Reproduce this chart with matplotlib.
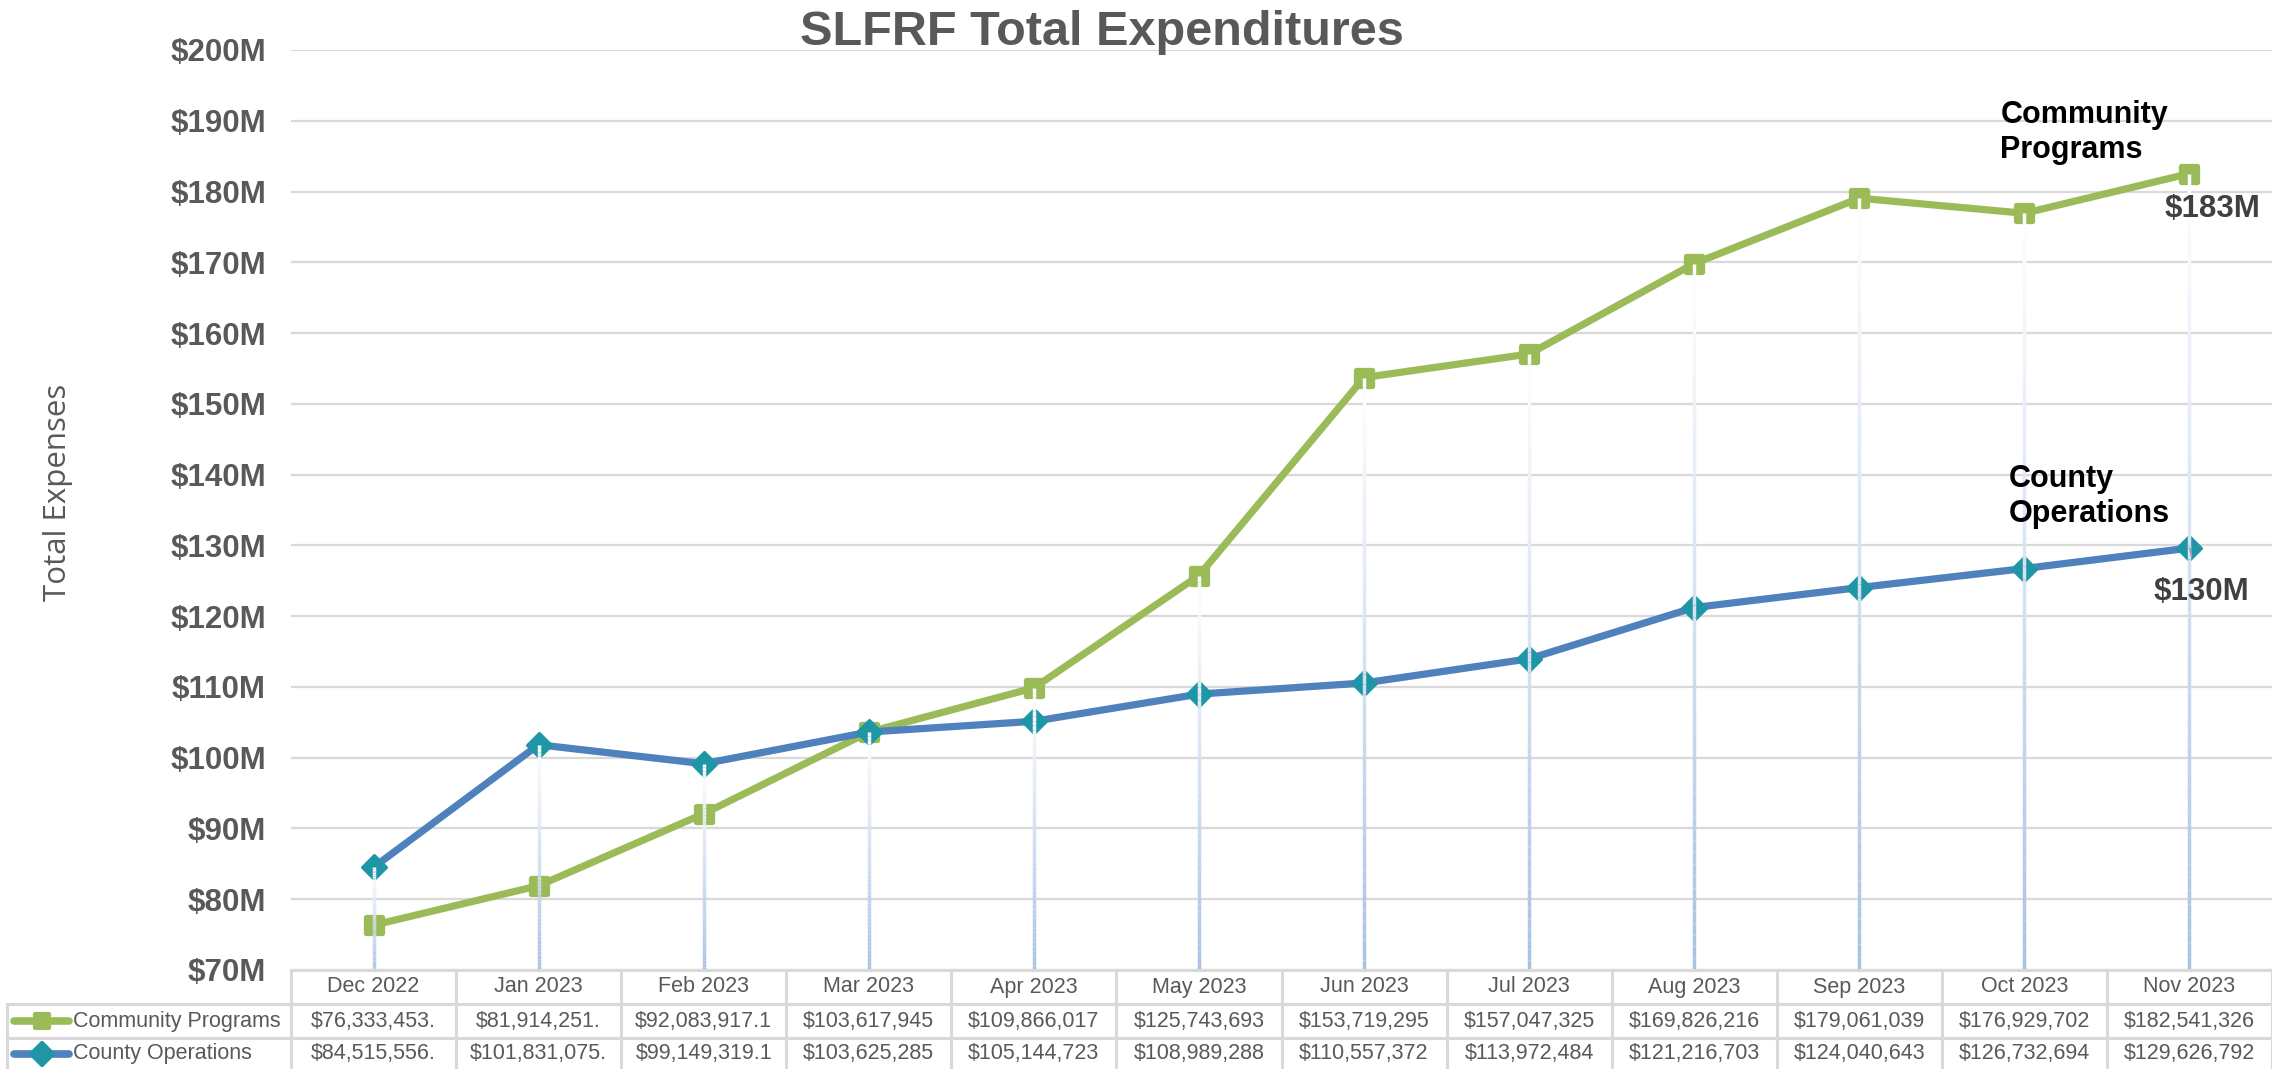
import matplotlib
matplotlib.use("Agg")
import matplotlib.pyplot as plt
import numpy as np
from matplotlib.lines import Line2D
from matplotlib.collections import LineCollection
from matplotlib.markers import MarkerStyle
from matplotlib.transforms import blended_transform_factory

# ---------------- data ----------------
months = ["Dec 2022", "Jan 2023", "Feb 2023", "Mar 2023", "Apr 2023", "May 2023",
          "Jun 2023", "Jul 2023", "Aug 2023", "Sep 2023", "Oct 2023", "Nov 2023"]
community = [76.333453, 81.914251, 92.0839171, 103.617945, 109.866017, 125.743693,
             153.719295, 157.047325, 169.826216, 179.061039, 176.929702, 182.541326]
county = [84.515556, 101.831075, 99.1493191, 103.625285, 105.144723, 108.989288,
          110.557372, 113.972484, 121.216703, 124.040643, 126.732694, 129.626792]
community_labels = ["$76,333,453.", "$81,914,251.", "$92,083,917.1", "$103,617,945",
                    "$109,866,017", "$125,743,693", "$153,719,295", "$157,047,325",
                    "$169,826,216", "$179,061,039", "$176,929,702", "$182,541,326"]
county_labels = ["$84,515,556.", "$101,831,075.", "$99,149,319.1", "$103,625,285",
                 "$105,144,723", "$108,989,288", "$110,557,372", "$113,972,484",
                 "$121,216,703", "$124,040,643", "$126,732,694", "$129,626,792"]
yticks = list(range(70, 201, 10))
series_names = ["Community Programs", "County Operations"]

# ---------------- style ----------------
W, H = 2272, 1069
GREEN = "#9BBB59"
BLUE = "#4F81BD"
TEAL = "#1E96A6"
GRAY = "#595959"
GRID = "#D9D9D9"
FONT = ["Liberation Sans", "DejaVu Sans"]
plt.rcParams["font.family"] = FONT

fig = plt.figure(figsize=(W / 100, H / 100), dpi=100)
ax = fig.add_axes([291 / W, (H - 970) / H, (2272 - 291) / W, 920 / H])

def fx(p):
    return p / W

def fy(p):
    return (H - p) / H

x = np.arange(len(months))
ax.set_xlim(-0.5, len(months) - 0.5)
ax.set_ylim(70, 200)
ax.set_yticks(yticks)
ax.set_yticklabels([f"${v}M" for v in yticks], fontsize=22.5, fontweight="bold", color=GRAY)
ax.tick_params(axis="y", length=0, pad=18)
ax.set_xticks([])
for s in ax.spines.values():
    s.set_visible(False)
ax.grid(axis="y", color=GRID, linewidth=1.6, zorder=0)
ax.set_axisbelow(True)

sq = MarkerStyle("s", joinstyle="round")
dm = MarkerStyle("D", joinstyle="round")

ax.plot(x, community, color=GREEN, linewidth=5.2, marker=sq, markersize=11.5,
        markerfacecolor=GREEN, markeredgecolor=GREEN, markeredgewidth=3.8,
        solid_joinstyle="round", zorder=3)
ax.plot(x, county, color=BLUE, linewidth=5.2, marker=dm, markersize=12,
        markerfacecolor=TEAL, markeredgecolor=TEAL, markeredgewidth=2.2,
        solid_joinstyle="round", zorder=3)

# drop lines with white -> light-blue gradient
top_c = np.array([1.0, 1.0, 1.0])
bot_c = np.array([0.66, 0.76, 0.89])
segs, cols = [], []
n = 60
for i in range(len(months)):
    ytop = max(community[i], county[i])
    ys = np.linspace(ytop, 70, n + 1)
    for k in range(n):
        segs.append([(x[i], ys[k]), (x[i], ys[k + 1])])
        t = (k + 0.5) / n
        cols.append(tuple(top_c * (1 - t) + bot_c * t))
lc = LineCollection(segs, colors=cols, linewidths=2.5, zorder=4, capstyle="butt")
ax.add_collection(lc)

# annotations at last point
last = len(months) - 1
ax.annotate("Community\nPrograms", xy=(x[last], community[last]), xytext=(-189, 74),
            textcoords="offset pixels", ha="left", va="top", fontsize=22,
            fontweight="bold", color="black", linespacing=1.22, zorder=6)
ax.annotate(f"${community[last]:.0f}M", xy=(x[last], community[last]), xytext=(23, -35),
            textcoords="offset pixels", ha="center", va="center", fontsize=22.5,
            fontweight="bold", color="#404040", zorder=6)
ax.annotate("County\nOperations", xy=(x[last], county[last]), xytext=(-181, 84),
            textcoords="offset pixels", ha="left", va="top", fontsize=22,
            fontweight="bold", color="black", linespacing=1.22, zorder=6)
ax.annotate(f"${county[last]:.0f}M", xy=(x[last], county[last]), xytext=(12, -44),
            textcoords="offset pixels", ha="center", va="center", fontsize=22.5,
            fontweight="bold", color="#404040", zorder=6,
            arrowprops=dict(arrowstyle="-", color="#A0A0A0", lw=1.2,
                            shrinkA=14, shrinkB=0))

# title and y label
fig.text(fx(1102), fy(45), "SLFRF Total Expenditures", ha="center", va="baseline",
         fontsize=35, fontweight="bold", color=GRAY)
fig.text(fx(58), fy(492), "Total Expenses", rotation=90, ha="center", va="center",
         fontsize=22.5, color=GRAY, family=["Open Sans", "DejaVu Sans"])

# ---------------- data table ----------------
tr = blended_transform_factory(ax.transData, fig.transFigure)
lw_t = 2.2
fig.add_artist(Line2D([-0.5, len(months) - 0.5], [fy(970), fy(970)], transform=tr,
                      color=GRID, lw=lw_t))
for yy in (1004, 1038):
    fig.add_artist(Line2D([fx(7), fx(2272)], [fy(yy), fy(yy)], color=GRID, lw=lw_t))
fig.add_artist(Line2D([fx(7), fx(7)], [fy(1004), fy(1069)], color=GRID, lw=lw_t))
for k in range(len(months) + 1):
    xe = k - 0.5
    fig.add_artist(Line2D([xe, xe], [fy(970), fy(1069)], transform=tr, color=GRID, lw=lw_t))

TFS = 15.5
for i, m in enumerate(months):
    fig.text(x[i], fy(987), m, transform=tr, ha="center", va="center",
             fontsize=TFS, color=GRAY)
    fig.text(x[i], fy(1021), community_labels[i], transform=tr, ha="center",
             va="center", fontsize=TFS, color=GRAY)
    fig.text(x[i], fy(1054), county_labels[i], transform=tr, ha="center",
             va="center", fontsize=TFS, color=GRAY)

# legend keys in table
for yy, col, mk, mfc, ms, name in ((1021, GREEN, sq, GREEN, 10, series_names[0]),
                                   (1054, BLUE, dm, TEAL, 11, series_names[1])):
    fig.add_artist(Line2D([fx(14), fx(69)], [fy(yy), fy(yy)], color=col, lw=5.5,
                          solid_capstyle="round"))
    fig.add_artist(Line2D([fx(41.5)], [fy(yy)], marker=mk, markersize=ms,
                          markerfacecolor=mfc, markeredgecolor=mfc, markeredgewidth=3,
                          linestyle="none"))
    fig.text(fx(73), fy(yy), name, ha="left", va="center", fontsize=TFS, color=GRAY)

fig.savefig("out.png", dpi=100)
